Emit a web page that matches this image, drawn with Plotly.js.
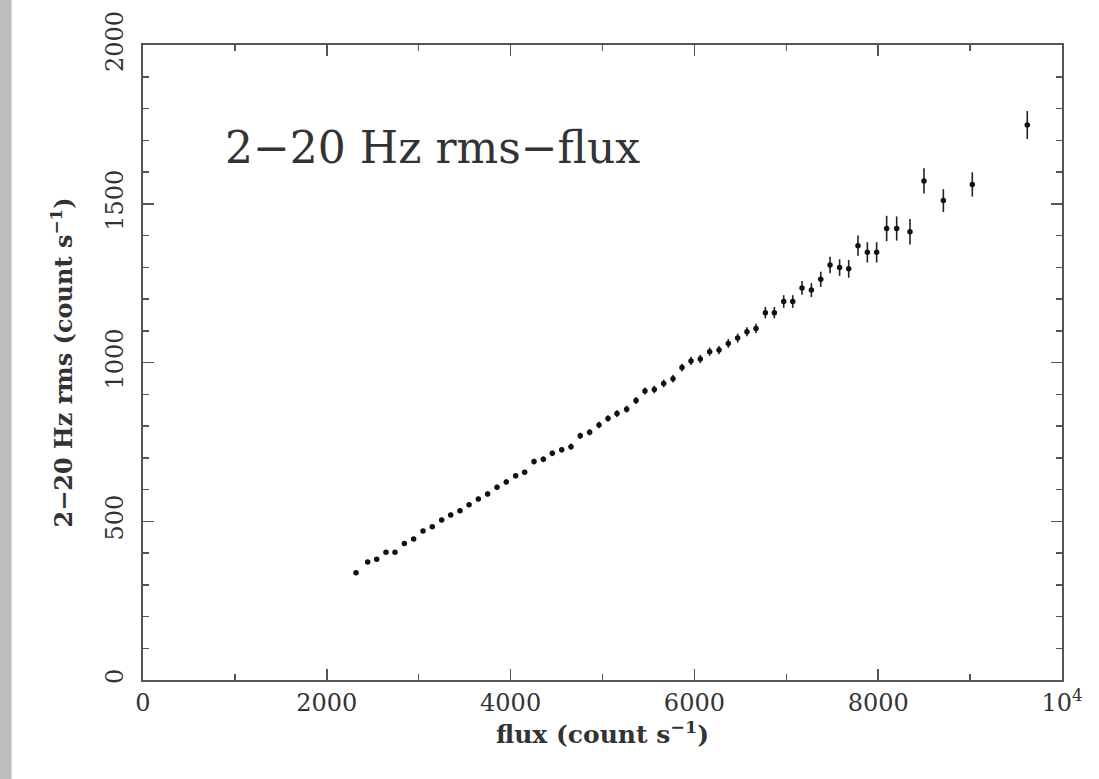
<!DOCTYPE html>
<html>
<head>
<meta charset="utf-8">
<script src="https://cdn.plot.ly/plotly-3.0.1.min.js"></script>
<style>html,body{margin:0;padding:0;background:#fff;}#chart{width:1099px;height:779px;}</style>
</head>
<body>
<div id="chart"></div>
<script>
const flux = [2318,2445,2543,2644,2742,2844,2945,3047,3148,3250,3348,3449,3548,3649,3750,3852,3953,4055,4153,4255,4356,4454,4556,4657,4758,4860,4962,5060,5158,5263,5365,5462,5564,5666,5767,5865,5963,6064,6166,6268,6369,6471,6572,6670,6772,6870,6972,7070,7171,7273,7375,7476,7580,7679,7780,7882,7983,8092,8201,8346,8498,8709,9024,9622];
const rms = [338,372,380,402,402,430,444,469,483,504,520,533,552,570,586,607,624,643,654,688,695,714,725,735,769,780,803,824,839,853,880,910,915,934,949,984,1005,1011,1034,1039,1060,1077,1097,1107,1157,1157,1192,1192,1235,1228,1262,1307,1299,1295,1368,1347,1347,1422,1422,1412,1572,1510,1561,1748];
const rmsErr = [5,5,5,5,6,6,6,6,6,7,7,7,7,7,8,8,8,8,8,9,9,9,9,10,10,10,10,10,11,11,11,11,12,12,12,12,13,13,13,13,14,14,14,15,18,18,20,20,22,22,24,26,26,28,32,32,32,40,38,40,40,36,38,44];
const xTickVals = [0,2000,4000,6000,8000,10000];
const xTickText = ['0','2000','4000','6000','8000','10<sup>4</sup>'];
const yTickVals = [0,500,1000,1500,2000];
const yTickText = ['0','500','1000','1500','2000'];

const axisColor = '#555';
const fnt = {family:'DejaVu Serif, Liberation Serif, serif', color:'#333'};

const trace = {
  x: flux, y: rms, type:'scatter', mode:'markers',
  marker:{color:'#111', size:5.5},
  error_y:{type:'data', array:rmsErr, visible:true, color:'#222', thickness:1.6, width:0}
};

const layout = {
  width:1099, height:779,
  margin:{l:143, r:37, t:45, b:99},
  paper_bgcolor:'#fff', plot_bgcolor:'#fff',
  showlegend:false,
  xaxis:{
    range:[0,10000], showgrid:false, zeroline:false,
    showline:true, linecolor:axisColor, linewidth:2, mirror:'ticks',
    ticks:'inside', ticklen:11, tickwidth:1.5, tickcolor:axisColor,
    tickvals:xTickVals, ticktext:xTickText,
    minor:{dtick:1000, tick0:0, ticks:'inside', ticklen:6, tickwidth:1.5, tickcolor:axisColor, showgrid:false},
    tickfont:Object.assign({size:24}, fnt),
    title:{text:'flux (count s<sup>−1</sup>)', font:Object.assign({size:25, weight:'bold'}, fnt), standoff:4}
  },
  yaxis:{
    range:[0,2000], showgrid:false, zeroline:false,
    showline:true, linecolor:axisColor, linewidth:2, mirror:'ticks',
    ticks:'inside', ticklen:11, tickwidth:1.5, tickcolor:axisColor,
    tickvals:yTickVals, ticktext:yTickText, tickangle:-90,
    minor:{dtick:100, tick0:0, ticks:'inside', ticklen:6, tickwidth:1.5, tickcolor:axisColor, showgrid:false},
    tickfont:Object.assign({size:24}, fnt),
    ticklabelstandoff:8,
    title:{text:'2−20 Hz rms (count s<sup>−1</sup>)', font:Object.assign({size:24, weight:'bold'}, fnt), standoff:22}
  },
  annotations:[{
    xref:'paper', yref:'paper', x:0.087, y:0.838, xanchor:'left', yanchor:'middle',
    text:'2−20 Hz rms−flux', showarrow:false,
    font:Object.assign({size:44}, fnt)
  }],
  shapes:[{
    type:'rect', xref:'paper', yref:'paper', x0:-0.157, x1:-0.143, y0:-0.2, y1:1.1,
    fillcolor:'#bdbdbd', line:{width:0}, layer:'below'
  }]
};

Plotly.newPlot('chart', [trace], layout, {displayModeBar:false, staticPlot:true});
</script>
</body>
</html>
